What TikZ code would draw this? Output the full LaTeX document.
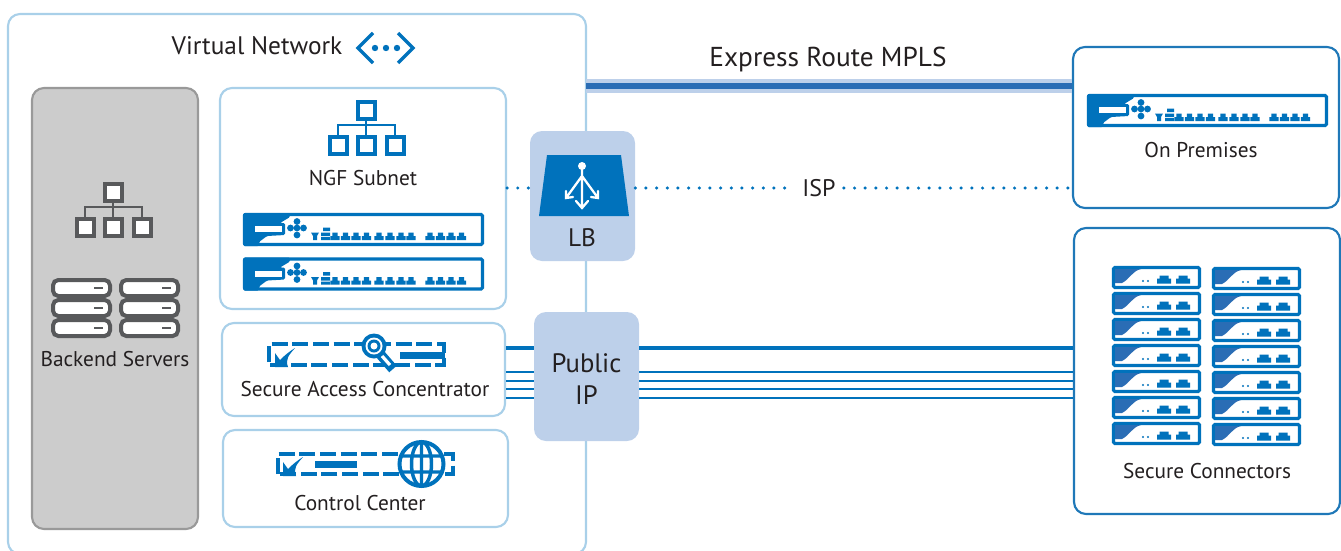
\documentclass[tikz,border=0pt]{standalone}
\usepackage{fontspec}
\setmainfont{PT Sans}
\usetikzlibrary{positioning}
\definecolor{bcblue}{HTML}{0072BC}
\definecolor{wedgeblue}{HTML}{2A6DB5}
\definecolor{paleline}{HTML}{A9D0E9}
\definecolor{darkline}{HTML}{1F78B8}
\definecolor{hubfill}{HTML}{BDD0EA}
\definecolor{grayfill}{HTML}{CCCCCC}
\definecolor{grayline}{HTML}{999999}
\definecolor{iconblack}{HTML}{58595B}
\definecolor{inktext}{HTML}{231F20}
\newcommand{\pxu}{0.75pt}
\tikzset{
  panel/.style={draw=paleline, line width=1.6pt, fill=white, rounded corners=9pt, inner sep=0pt},
  farpanel/.style={panel, draw=darkline},
  graypanel/.style={panel, draw=grayline, fill=grayfill},
  hub/.style={fill=hubfill, rounded corners=9pt, inner sep=0pt, text=inktext},
  tag/.style={text=inktext, inner sep=0pt, font=\fontsize{16}{18}\selectfont},
  fatlink/.style={bcblue, line width=2.4pt},
  thinlink/.style={bcblue, line width=1.5pt},
  isplink/.style={bcblue, line width=2.6pt, line cap=round, dash pattern=on 0pt off 8pt},
  tunnel/.style={bcblue, line width=2.6pt, dash pattern=on 12pt off 3.5pt},
  treeicon/.pic={
    \draw[line width=3pt, fill=white] (30,2) rectangle +(17,17)
      (2,37) rectangle +(17,17) (30,37) rectangle +(17,17) (59,37) rectangle +(17,17);
    \draw[line width=1.5pt] (10,35) |- (67,25) -- (67,35) (38,20) -- (38,35);
  },
  serverunit/.pic={
    \draw[iconblack, line width=3pt, fill=white, rounded corners=4pt] (0,0) rectangle (57,16);
    \draw[iconblack, line width=1.2pt] (41,8) -- (50,8);
  },
  ngfbar/.pic={
    \draw[bcblue, line width=2.4pt, fill=white, rounded corners=1pt] (1.5,1.5) rectangle (239.5,31.5);
    \fill[bcblue, rounded corners=1pt] (0,0) -- (47,0) -- (47,4) -- (37,10) -- (42,10) -- (42,22) -- (24,23) -- (16,29) -- (16,33) -- (0,33) -- cycle;
    \fill[white] (12,13) rectangle (39,19);
    \foreach \ptx/\pty in {54/8.5,54/22,47.5/15,60.5/15,54/15}
      \fill[bcblue] (\ptx,\pty) circle (3.4);
    \fill[bcblue] (68,19.5) -- (76,19.5) -- (74,23) -- (74,27) -- (70,27) -- (70,23) -- cycle;
    \fill[bcblue] (80,14.5) rectangle (87,18) (78,19.5) rectangle (87,23) (78,24) rectangle (87,27);
    \foreach \ptx in {92,102.5,113,123.5,136,147,158,168,187,197.5,208,218.5}
      \fill[bcblue] (\ptx-4.6,27) -- (\ptx-4.6,23) -- (\ptx-2.6,23) -- (\ptx-2.6,19.5) -- (\ptx+2.6,19.5) -- (\ptx+2.6,23) -- (\ptx+4.6,23) -- (\ptx+4.6,27) -- cycle;
  },
  connbar/.pic={
    \draw[bcblue, line width=2.4pt, fill=white, rounded corners=1pt] (1.5,1.5) rectangle (87.5,21.5);
    \fill[wedgeblue] (3,3) -- (29,3) .. controls (20,5) and (18,13) .. (10,17) -- (3,17) -- cycle;
    \fill[bcblue] (31,15) circle (1.2) (36,15) circle (1.2);
    \foreach \ptx in {52,71}
      \fill[bcblue] (\ptx-7,17.5) -- (\ptx-7,12.5) -- (\ptx-4.5,12.5) -- (\ptx-4.5,9.5) -- (\ptx+4.5,9.5) -- (\ptx+4.5,12.5) -- (\ptx+7,12.5) -- (\ptx+7,17.5) -- cycle;
  },
  swoosh/.pic={
    \fill[bcblue] (0,0) -- (0,-14) -- (5,-7) .. controls (10,-12) and (15,-16) .. (20,-19) .. controls (14,-12) and (10,-8) .. (13,0) -- cycle;
  },
}

\begin{document}
\begin{tikzpicture}[x=0.75pt, y=-0.75pt]
  \useasboundingbox (0,0) rectangle (1341,550);

  \node (vnet) [panel, minimum width=578*\pxu, minimum height=540*\pxu] at (297,284) {};
  \node (vnettag) [tag, font=\fontsize{19}{22}\selectfont] at (257,46) {Virtual Network};
  \draw[bcblue, line width=2.4pt] (373,33) -- (358,48) -- (373,63) (398,33) -- (413,48) -- (398,63);
  \foreach \dotx in {375,386,397}
    \fill[bcblue] (\dotx,48) circle (3.2);

  \node (backend) [graypanel, minimum width=166*\pxu, minimum height=441*\pxu] at (115,308.5) {};
  \pic[iconblack, draw=iconblack] at (75,182) {treeicon};
  \foreach \srvx in {53,121}
    \foreach \srvy in {280,300,320}
      \pic at (\srvx,\srvy) {serverunit};
  \node (backendtag) [tag] at (115,359) {Backend Servers};

  \node (ngf) [panel, minimum width=286*\pxu, minimum height=221*\pxu] at (363,198.5) {};
  \pic[bcblue, draw=bcblue] at (328,100) {treeicon};
  \node (ngftag) [tag] at (363,178) {NGF Subnet};
  \pic at (243,213) {ngfbar};
  \pic at (243,257.5) {ngfbar};

  \node (sac) [panel, minimum width=283*\pxu, minimum height=93*\pxu] at (363.5,369.5) {};
  \draw[tunnel] (269,362) -- (269,344) -- (444,344) -- (444,365) -- (269,365);
  \pic at (275,367) {swoosh};
  \fill[bcblue] (400,352) rectangle (445,359);
  \draw[bcblue, line width=7.5pt] (380,354) -- (393,369);
  \draw[white, line width=2.4pt] (382,356) -- (390,365);
  \fill[bcblue] (374,346) circle (12.5);
  \fill[white] (374,346) circle (8.5);
  \fill[bcblue] (374,346) circle (6.5);
  \fill[white] (374,346) circle (3.5);
  \node (sactag) [tag] at (365,389) {Secure Access Concentrator};

  \node (cc) [panel, minimum width=285*\pxu, minimum height=97*\pxu] at (365.5,478.5) {};
  \draw[tunnel] (278,474) -- (278,454) -- (453,454) -- (453,474) -- (278,474);
  \pic at (283,476) {swoosh};
  \fill[bcblue] (315,461) rectangle (357,468);
  \fill[white] (421.5,464) circle (23.5);
  \draw[bcblue, line width=3pt] (421.5,464) circle (22);
  \draw[bcblue, line width=2.6pt] (421.5,464) ellipse (10 and 22) (421.5,441) -- (421.5,487) (400,456) -- (443,456) (400,472) -- (443,472);
  \node (cctag) [tag] at (360,503) {Control Center};

  \node (lb) [hub, minimum width=105*\pxu, minimum height=130*\pxu] at (582.5,196) {};
  \fill[bcblue] (547,155) -- (621,155) -- (629,216) -- (539,216) -- cycle;
  \draw[white, line width=1.7pt, line cap=round] (582,168) -- (582,207) (582,176) -- (566,198) (582,176) -- (598,198)
    (576,201) -- (582,208) -- (588,201) (566,191) -- (566,198) -- (573,197) (598,191) -- (598,198) -- (591,197);
  \fill[white] (582,166) circle (4);
  \node (lbtag) [tag, font=\fontsize{19}{22}\selectfont] at (582,238) {LB};

  \node (pubip) [hub, minimum width=105*\pxu, minimum height=129*\pxu] at (586.5,376.5) {};
  \node (pubiptag) [tag, align=center, font=\fontsize{20}{24}\selectfont] at (586.5,379) {Public\\IP};

  \node (onprem) [farpanel, minimum width=266*\pxu, minimum height=161*\pxu] at (1206,127.5) {};
  \pic at (1087,94) {ngfbar};
  \node (onpremtag) [tag] at (1201,150) {On Premises};

  \node (seccon) [farpanel, minimum width=266*\pxu, minimum height=286*\pxu] at (1207,371) {};
  \foreach \rowy in {0,...,6} {
    \pic at (1112,266+26*\rowy) {connbar};
    \pic at (1212,267+26*\rowy) {connbar};
  }
  \node (secconntag) [tag] at (1207,471) {Secure Connectors};

  \coordinate (mplsstart) at (586,86);
  \draw[hubfill, line width=10.5pt] (mplsstart) -- (mplsstart -| onprem.west);
  \draw[wedgeblue, line width=5pt] (mplsstart) -- (mplsstart -| onprem.west);
  \node (mplstag) [tag, font=\fontsize{20.5}{24}\selectfont] at (828,60) {Express Route MPLS};

  \node (isptag) [tag, font=\fontsize{18}{22}\selectfont] at (819,188) {ISP};
  \draw[isplink] (isptag.west -| ngf.east) -- (isptag.west -| lb.west);
  \draw[isplink] (isptag.west -| lb.east) -- ([xshift=-6pt]isptag.west);
  \draw[isplink] ([xshift=6pt]isptag.east) -- (isptag.east -| onprem.west);

  \coordinate (fatlink) at (590,348);
  \draw[fatlink] (fatlink -| sac.east) -- (fatlink -| pubip.west);
  \draw[fatlink] (fatlink -| pubip.east) -- (fatlink -| seccon.west);
  \foreach \liney in {372,381,389,398} {
    \coordinate (thinlink) at (590,\liney);
    \draw[thinlink] (thinlink -| sac.east) -- (thinlink -| pubip.west);
    \draw[thinlink] (thinlink -| pubip.east) -- (thinlink -| seccon.west);
  }
\end{tikzpicture}
\end{document}
